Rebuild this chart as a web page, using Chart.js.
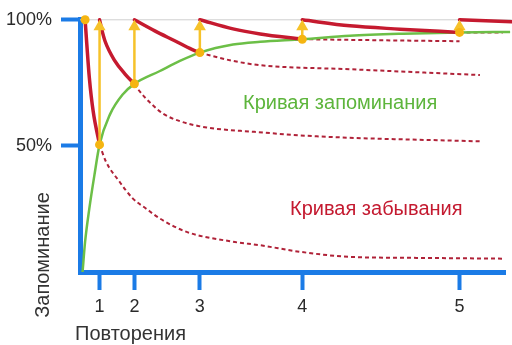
<!DOCTYPE html>
<html lang="ru">
<head>
<meta charset="UTF-8">
<title>Кривая забывания</title>
<script src="https://cdn.jsdelivr.net/npm/chart.js@4"></script>
<style>
  html, body { margin: 0; background: #fff; }
  canvas { display: block; }
</style>
</head>
<body>
<canvas id="chart" width="512" height="345"></canvas>
<script>
// repetitions (x in arbitrary time units 0..100) and recall at each one
const repTimes = [4.6, 12.8, 28.2, 52.3, 89.3];
const repLabels = ['1', '2', '3', '4', '5'];
const repRecall = [50.5, 74.6, 87, 92.3, 95];
const startTime = 1.2;
const yTicks = [50, 100];

// green memory curve
const memoryX = [0.6, 1.2, 2.2, 3.4, 4.6, 7.06, 10.1, 12.8, 18.8, 23.5, 28.2, 36, 42.4, 52.3, 63.5, 76, 89.3, 101.2];
const memoryY = [0, 12, 25.2, 38.5, 50.5, 62.5, 70.5, 74.6, 79.7, 83.7, 87, 90.2, 91.3, 92.3, 93.7, 94.5, 95, 95.2];

// red solid forgetting curve, one piece between repetitions
const forgetX = [
  [1.2, 1.6, 2.2, 3.1, 4.6],
  [4.6, 5.1, 5.9, 8.2, 10.6, 12.8],
  [12.8, 17.6, 22.4, 26.3, 28.2],
  [28.2, 36, 42.4, 52.3],
  [52.3, 63.5, 75.3, 89.3],
  [89.3, 101.6]
];
const forgetY = [
  [100, 90.4, 77, 63.7, 50.5],
  [100, 96.3, 91.5, 83.7, 78.5, 74.6],
  [100, 95.6, 91.6, 88.3, 87],
  [100, 96.4, 94.4, 92.3],
  [100, 97.6, 96.3, 95],
  [100, 99.2]
];

// dashed: what happens without the next repetition
const fadeX = [
  [4.6, 6.1, 9.25, 12.4, 15.5, 18.8, 25.1, 36, 42.4, 51.8, 63.5, 79.2, 99.5],
  [12.8, 14.1, 16.9, 19.5, 23.5, 29.8, 40.8, 55.7, 94.1],
  [28.2, 29.9, 36, 42.4, 63.5, 94.1],
  [52.3, 70, 89.3],
  [89.3, 99.5]
];
const fadeY = [
  [50.5, 43.8, 35.9, 29.2, 25.2, 21.2, 15.9, 12, 10.6, 8, 6, 5.6, 5.3],
  [74.6, 71.5, 66.5, 62.8, 59.8, 57.3, 55.6, 53.8, 51.8],
  [87, 86.2, 83.7, 82, 80.4, 78.1],
  [92.3, 91.9, 91.5],
  [95, 95]
];

const memoryLabel = 'Кривая запоминания';
const forgetLabel = 'Кривая забывания';
const xTitle = 'Повторения';
const yTitle = 'Запоминание';

const BLUE = '#1b7be6';
const RED = '#c51a2f';
const GREEN = '#6cbf47';
const YELLOW = '#f6c22a';
const DOT = '#f5b511';
const FONT = '"Liberation Sans", Arial, sans-serif';
const arrowHead = 2.8;

const pts = (xs, ys) => xs.map((x, i) => ({ x: x, y: ys[i] }));

const datasets = [];
// dots
datasets.push({
  data: pts([startTime].concat(repTimes), [100].concat(repRecall)),
  showLine: false, pointRadius: 4.5, pointBackgroundColor: DOT, pointBorderWidth: 0, clip: false
});
// arrows
repTimes.forEach((t, i) => {
  datasets.push({
    data: [{ x: t, y: repRecall[i] }, { x: t, y: 100 - arrowHead }],
    borderColor: YELLOW, borderWidth: 2.5,
    pointRadius: [0, 7], pointStyle: 'triangle',
    pointBackgroundColor: YELLOW, pointBorderWidth: 0, clip: false
  });
});
forgetX.forEach((xs, i) => {
  datasets.push({
    data: pts(xs, forgetY[i]), borderColor: RED, borderWidth: 3.5,
    borderCapStyle: 'round', cubicInterpolationMode: 'monotone', pointRadius: 0, clip: false
  });
});
datasets.push({
  data: pts(memoryX, memoryY), borderColor: GREEN, borderWidth: 2.5,
  cubicInterpolationMode: 'monotone', pointRadius: 0, clip: false
});
fadeX.forEach((xs, i) => {
  datasets.push({
    data: pts(xs, fadeY[i]), borderColor: '#b02238', borderWidth: 2, borderDash: [4, 3],
    cubicInterpolationMode: 'monotone', pointRadius: 0, clip: false
  });
});
// thin 100% guide
datasets.push({
  data: pts([0, 101.6], [100, 100]), borderColor: '#cfcfcf', borderWidth: 1, pointRadius: 0, clip: false
});

const textPlugin = {
  id: 'texts',
  afterDraw(chart) {
    const ctx = chart.ctx;
    ctx.save();
    ctx.font = '20px ' + FONT;
    ctx.textBaseline = 'middle';
    ctx.textAlign = 'left';
    ctx.fillStyle = '#5db53c';
    ctx.fillText(memoryLabel, 243, 103);
    ctx.fillStyle = '#c41a30';
    ctx.fillText(forgetLabel, 290, 209);
    ctx.fillStyle = '#333';
    ctx.fillText(xTitle, 75, 334);
    ctx.translate(43, 255);
    ctx.rotate(-Math.PI / 2);
    ctx.textAlign = 'center';
    ctx.fillText(yTitle, 0, 0);
    ctx.restore();
  }
};

new Chart(document.getElementById('chart'), {
  type: 'line',
  data: { datasets: datasets },
  options: {
    responsive: false,
    animation: false,
    layout: { padding: { top: 19, right: 7, left: 0, bottom: 0 } },
    plugins: { legend: { display: false }, tooltip: { enabled: false } },
    scales: {
      x: {
        type: 'linear', min: 0, max: 100,
        afterFit: s => { s.height = 73; },
        afterBuildTicks: s => { s.ticks = repTimes.map(v => ({ value: v })); },
        border: { color: BLUE, width: 5 },
        grid: { drawOnChartArea: false, tickLength: 18, tickWidth: 4, tickColor: BLUE },
        ticks: {
          padding: 6, color: '#2a2a2a', font: { size: 18, family: FONT },
          callback: (v, i) => repLabels[i]
        }
      },
      y: {
        min: 0, max: 100,
        afterFit: s => { s.width = 80; },
        afterBuildTicks: s => { s.ticks = yTicks.map(v => ({ value: v })); },
        border: { color: BLUE, width: 5 },
        grid: { drawOnChartArea: false, tickLength: 19, tickWidth: 4, tickColor: BLUE },
        ticks: {
          padding: 9, color: '#2a2a2a', font: { size: 18, family: FONT },
          callback: v => v + '%'
        }
      }
    }
  },
  plugins: [textPlugin]
});
</script>
</body>
</html>
